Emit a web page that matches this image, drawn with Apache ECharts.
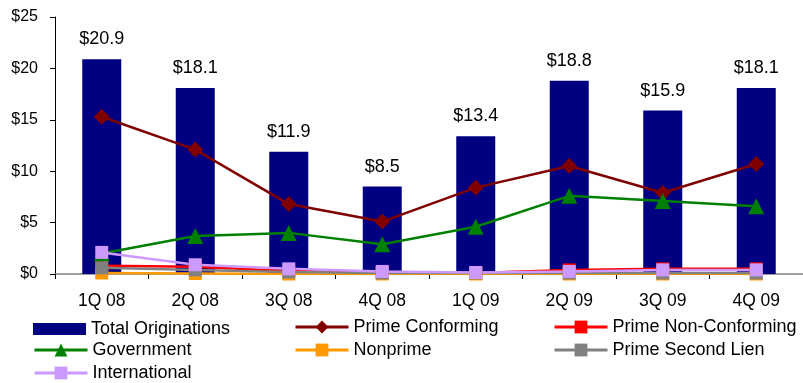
<!DOCTYPE html>
<html>
<head>
<meta charset="utf-8">
<script src="https://cdn.jsdelivr.net/npm/echarts@6/dist/echarts.min.js"></script>
<style>
  html, body { margin: 0; padding: 0; background: #fff; }
  #chart { width: 803px; height: 383px; }
</style>
</head>
<body>
<div id="chart"></div>
<script>
// Quarterly originations ($ billions)
const quarters = ['1Q 08', '2Q 08', '3Q 08', '4Q 08', '1Q 09', '2Q 09', '3Q 09', '4Q 09'];
const totalOriginations = [20.9, 18.1, 11.9, 8.5, 13.4, 18.8, 15.9, 18.1];
const primeConforming = [15.3, 12.1, 6.8, 5.1, 8.4, 10.5, 7.9, 10.7];
const primeNonConforming = [0.8, 0.7, 0.3, 0.2, 0.1, 0.4, 0.5, 0.5];
const government = [2.0, 3.7, 4.0, 2.9, 4.6, 7.6, 7.1, 6.6];
const nonprime = [0.1, 0.05, 0.0, 0.0, 0.0, 0.0, 0.0, 0.0];
const primeSecondLien = [0.6, 0.4, 0.2, 0.1, 0.1, 0.1, 0.1, 0.1];
const international = [2.1, 0.9, 0.5, 0.25, 0.15, 0.25, 0.4, 0.4];
const yTicks = [0, 5, 10, 15, 20, 25];

const font = 'Liberation Sans, Arial, sans-serif';

function lineSeries(name, data, color, symbol, size) {
  return {
    name, type: 'line', data,
    symbol, symbolSize: size,
    lineStyle: { color, width: 2.5 },
    itemStyle: { color },
    emphasis: { disabled: true },
    animation: false
  };
}

// legend grid: 3 columns x 3 rows, one legend box per entry
const legendCells = [
  ['Total Originations', 33, 326], ['Prime Conforming', 294, 326], ['Prime Non-Conforming', 553, 326],
  ['Government', 33, 349], ['Nonprime', 294, 349], ['Prime Second Lien', 553, 349],
  ['International', 33, 372]
];
const legends = legendCells.map(([name, left, cy]) => {
  const isBar = name === 'Total Originations';
  const h = isBar ? 12 : 16;
  return {
    data: isBar ? [{ name, icon: 'rect' }] : [name],
    left, top: cy - h / 2, padding: 0,
    itemWidth: 53, itemHeight: h, itemGap: 0, selectedMode: false,
    lineStyle: { width: 3 },
    textStyle: { fontFamily: font, fontSize: 18, color: '#000' }
  };
});

const chart = echarts.init(document.getElementById('chart'));
chart.setOption({
  animation: false,
  grid: { left: 55, top: 17, width: 756, height: 257 },
  legend: legends,
  xAxis: {
    type: 'category', data: quarters, boundaryGap: true,
    axisLine: { lineStyle: { color: '#808080', width: 1.5 } },
    axisTick: { show: true, length: 5, lineStyle: { color: '#000' } },
    axisLabel: { fontFamily: font, fontSize: 17.5, color: '#000', margin: 18 }
  },
  yAxis: {
    type: 'value', min: yTicks[0], max: yTicks[yTicks.length - 1], interval: 5,
    splitLine: { show: false },
    axisLine: { show: true, lineStyle: { color: '#000' } },
    axisTick: { show: true, length: 5, inside: false, lineStyle: { color: '#000' } },
    axisLabel: { fontFamily: font, fontSize: 16, color: '#000', margin: 17, formatter: v => '$' + v }
  },
  series: [
    {
      name: 'Total Originations', type: 'bar', data: totalOriginations,
      barWidth: 39,
      itemStyle: { color: '#000080' },
      label: {
        show: true, position: 'top', distance: 11,
        fontFamily: font, fontSize: 18, color: '#000',
        formatter: p => '$' + p.value.toFixed(1)
      },
      emphasis: { disabled: true }
    },
    lineSeries('Prime Conforming', primeConforming, '#800000', 'diamond', 16),
    lineSeries('Prime Non-Conforming', primeNonConforming, '#FF0000', 'rect', 13),
    lineSeries('Government', government, '#008000', 'triangle', 16),
    lineSeries('Nonprime', nonprime, '#FF9900', 'rect', 13),
    lineSeries('Prime Second Lien', primeSecondLien, '#808080', 'rect', 13),
    lineSeries('International', international, '#CC99FF', 'rect', 13)
  ]
});
</script>
</body>
</html>
